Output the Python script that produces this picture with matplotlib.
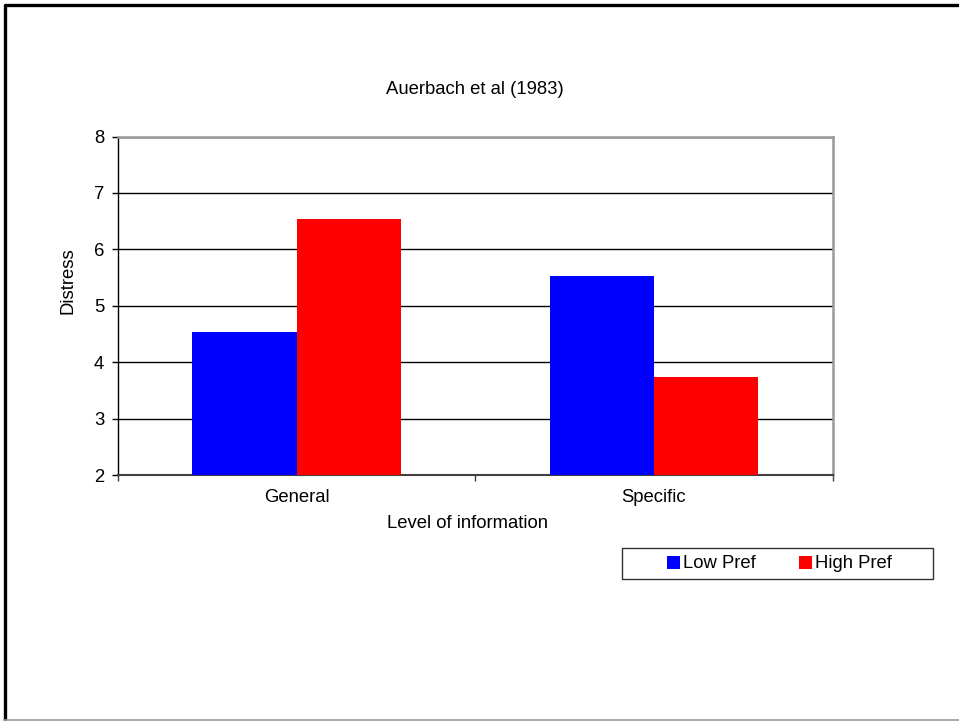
import matplotlib
matplotlib.use("Agg")
import matplotlib.pyplot as plt
import numpy as np
from matplotlib.lines import Line2D
from matplotlib.patches import Rectangle

categories = ["General", "Specific"]
series_names = ["Low Pref", "High Pref"]
low_pref = [4.53, 5.53]
high_pref = [6.53, 3.73]
y_ticks = [2, 3, 4, 5, 6, 7, 8]

plt.rcParams["font.family"] = ["Liberation Sans", "DejaVu Sans"]
FS = 13.3

fig = plt.figure(figsize=(9.59, 7.21), dpi=100)
fig.patch.set_facecolor("white")

W, H = 959, 721
def fx(px):
    return px / W
def fy(py):
    return 1 - py / H

ax = fig.add_axes([fx(118), fy(475), fx(832.5) - fx(118), fy(136.5) - fy(475)])

x = np.arange(len(categories))
bw = 0.292
ax.bar(x - bw / 2, low_pref, bw, color="#0000ff", label=series_names[0], zorder=3)
ax.bar(x + bw / 2, high_pref, bw, color="#ff0000", label=series_names[1], zorder=3)

ax.set_xlim(-0.5, 1.5)
ax.set_ylim(y_ticks[0], y_ticks[-1])
ax.set_yticks(y_ticks)
ax.set_yticklabels([str(t) for t in y_ticks], fontsize=FS)
ax.yaxis.grid(True, color="black", linewidth=1.0, zorder=1)
ax.set_axisbelow(True)

ax.set_xticks(x)
ax.set_xticklabels(categories, fontsize=FS)
ax.set_xticks([-0.5, 0.5, 1.5], minor=True)
ax.tick_params(axis="x", which="major", length=0, pad=10)
ax.tick_params(axis="x", which="minor", length=4, width=1, color="#404040", direction="out")
ax.tick_params(axis="y", length=4, width=1, color="black", direction="out", pad=6)

ax.spines["left"].set_color("black")
ax.spines["left"].set_linewidth(1.0)
ax.spines["bottom"].set_color("#404040")
ax.spines["bottom"].set_linewidth(1.5)
for s in ("top", "right"):
    ax.spines[s].set_color("#999999")
    ax.spines[s].set_linewidth(1.8)

# titles and axis labels
fig.text(fx(475), fy(89), "Auerbach et al (1983)", fontsize=FS, ha="center", va="center")
fig.text(fx(467.5), fy(523), "Level of information", fontsize=FS, ha="center", va="center")
fig.text(fx(68), fy(281), "Distress", fontsize=FS, ha="center", va="center", rotation=90)

# legend frame and entries
fig.patches.append(Rectangle((fx(622.3), fy(579.3)), fx(932.7) - fx(622.3), fy(548.3) - fy(579.3),
                             transform=fig.transFigure, facecolor="white", edgecolor="#333333",
                             linewidth=1.0))
handles, labels = ax.get_legend_handles_labels()
fig.legend(handles, labels, loc="center", bbox_to_anchor=(fx(779.5), fy(564)), ncol=2,
           frameon=False, fontsize=FS, handlelength=0.7, handleheight=0.7,
           handletextpad=0.15, columnspacing=2.35, borderpad=0.0)

# outer frame
fig.add_artist(Line2D([fx(5), fx(5)], [fy(4), fy(720)], transform=fig.transFigure,
                      color="black", linewidth=2.4, solid_capstyle="butt"))
fig.add_artist(Line2D([fx(4), fx(959)], [fy(4.5), fy(4.5)], transform=fig.transFigure,
                      color="black", linewidth=2.4, solid_capstyle="butt"))
fig.add_artist(Line2D([fx(4), fx(959)], [fy(719.5), fy(719.5)], transform=fig.transFigure,
                      color="#999999", linewidth=1.2))

fig.savefig("out.png", dpi=100, facecolor="white")
